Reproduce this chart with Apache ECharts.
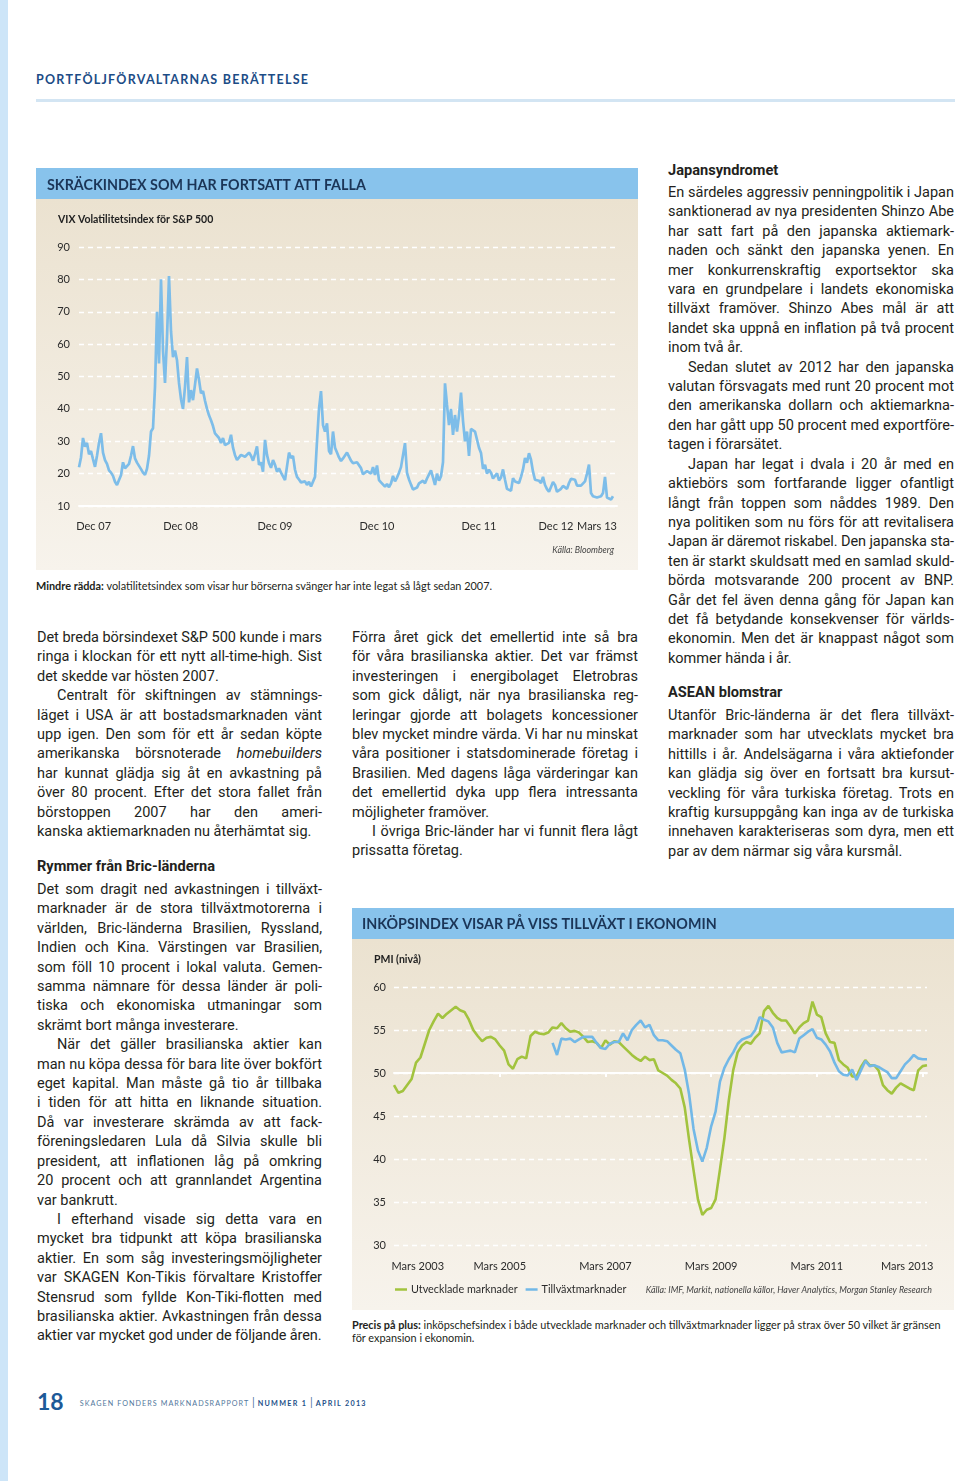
<!DOCTYPE html>
<html lang="sv"><head><meta charset="utf-8"><title>Portföljförvaltarnas berättelse</title>
<script src="https://cdn.jsdelivr.net/npm/echarts@6.0.0/dist/echarts.min.js"></script>
<style>
html,body{margin:0;padding:0;background:#fff;}
body{width:960px;height:1481px;position:relative;overflow:hidden;font-family:Roboto,Lato,sans-serif;color:#231f20;}
.stripe{position:absolute;left:0;top:0;width:8px;height:1481px;background:#cde5f8;}
.hdr{position:absolute;left:36px;top:72px;font-family:Lato,sans-serif;font-weight:bold;font-size:12.5px;letter-spacing:1.25px;color:#1c4c86;white-space:nowrap;}
.hline{position:absolute;left:36px;top:99px;width:919px;height:3px;background:#d3e5f3;}
.panel{position:absolute;width:602px;height:402px;background:linear-gradient(to bottom,#88c3ec 0,#88c3ec 31px,#ebe2d0 31px,#f7f3ec 402px);}
.cap{position:absolute;font-family:Lato,sans-serif;font-size:10.9px;line-height:13px;white-space:nowrap;color:#231f20;}
.col{position:absolute;font-size:14.5px;line-height:19.42px;}
.ln{white-space:nowrap;height:19.42px;}
.ln.in{padding-left:20px;}
.hd{position:absolute;font-weight:bold;font-size:14.6px;white-space:nowrap;}
.foot{position:absolute;left:37px;top:1387px;white-space:nowrap;color:#1d5a98;font-family:Lato,sans-serif;}
.foot .pg{font-weight:bold;font-size:23px;vertical-align:middle;}
.foot .t{font-size:7.2px;letter-spacing:1.05px;vertical-align:middle;margin-left:16px;color:#52779c;}
.foot .s{font-size:11px;color:#52779c;letter-spacing:0;}
.foot .b{font-weight:bold;color:#1d4f88;letter-spacing:1.3px;}
</style></head><body>
<div class="stripe"></div>
<div class="hdr">PORTFÖLJFÖRVALTARNAS BERÄTTELSE</div>
<div class="hline"></div>

<div id="vix" class="panel" style="left:36px;top:168px;"></div>
<div class="cap" style="left:36px;top:579px;"><b>Mindre rädda:</b> volatilitetsindex som visar hur börserna svänger har inte legat så lågt sedan 2007.</div>

<div id="pmi" class="panel" style="left:352px;top:908px;"></div>
<div class="cap" style="left:352px;top:1318px;font-size:10.9px;"><b>Precis på plus:</b> inköpschefsindex i både utvecklade marknader och tillväxtmarknader ligger på strax över 50 vilket är gränsen<br>för expansion i ekonomin.</div>

<div class="col" style="left:37px;top:628px;width:285px;">
<div class="ln j"><span>Det breda börsindexet S&amp;P 500 kunde i mars</span></div>
<div class="ln j"><span>ringa i klockan för ett nytt all-time-high. Sist</span></div>
<div class="ln"><span>det skedde var hösten 2007.</span></div>
<div class="ln j in"><span>Centralt för skiftningen av stämnings-</span></div>
<div class="ln j"><span>läget i USA är att bostadsmarknaden vänt</span></div>
<div class="ln j"><span>upp igen. Den som för ett år sedan köpte</span></div>
<div class="ln j"><span>amerikanska börsnoterade <i>homebuilders</i></span></div>
<div class="ln j"><span>har kunnat glädja sig åt en avkastning på</span></div>
<div class="ln j"><span>över 80 procent. Efter det stora fallet från</span></div>
<div class="ln j"><span>börstoppen 2007 har den ameri-</span></div>
<div class="ln"><span>kanska aktiemarknaden nu återhämtat sig.</span></div>
</div>
<div class="hd" style="left:37px;top:857px;">Rymmer från Bric-länderna</div>
<div class="col" style="left:37px;top:880px;width:285px;">
<div class="ln j"><span>Det som dragit ned avkastningen i tillväxt-</span></div>
<div class="ln j"><span>marknader är de stora tillväxtmotorerna i</span></div>
<div class="ln j"><span>världen, Bric-länderna Brasilien, Ryssland,</span></div>
<div class="ln j"><span>Indien och Kina. Värstingen var Brasilien,</span></div>
<div class="ln j"><span>som föll 10 procent i lokal valuta. Gemen-</span></div>
<div class="ln j"><span>samma nämnare för dessa länder är poli-</span></div>
<div class="ln j"><span>tiska och ekonomiska utmaningar som</span></div>
<div class="ln"><span>skrämt bort många investerare.</span></div>
<div class="ln j in"><span>När det gäller brasilianska aktier kan</span></div>
<div class="ln j"><span>man nu köpa dessa för bara lite över bokfört</span></div>
<div class="ln j"><span>eget kapital. Man måste gå tio år tillbaka</span></div>
<div class="ln j"><span>i tiden för att hitta en liknande situation.</span></div>
<div class="ln j"><span>Då var investerare skrämda av att fack-</span></div>
<div class="ln j"><span>föreningsledaren Lula då Silvia skulle bli</span></div>
<div class="ln j"><span>president, att inflationen låg på omkring</span></div>
<div class="ln j"><span>20 procent och att grannlandet Argentina</span></div>
<div class="ln"><span>var bankrutt.</span></div>
<div class="ln j in"><span>I efterhand visade sig detta vara en</span></div>
<div class="ln j"><span>mycket bra tidpunkt att köpa brasilianska</span></div>
<div class="ln j"><span>aktier. En som såg investeringsmöjligheter</span></div>
<div class="ln j"><span>var SKAGEN Kon-Tikis förvaltare Kristoffer</span></div>
<div class="ln j"><span>Stensrud som fyllde Kon-Tiki-flotten med</span></div>
<div class="ln j"><span>brasilianska aktier. Avkastningen från dessa</span></div>
<div class="ln"><span>aktier var mycket god under de följande åren.</span></div>
</div>

<div class="col" style="left:352px;top:628px;width:286px;">
<div class="ln j"><span>Förra året gick det emellertid inte så bra</span></div>
<div class="ln j"><span>för våra brasilianska aktier. Det var främst</span></div>
<div class="ln j"><span>investeringen i energibolaget Eletrobras</span></div>
<div class="ln j"><span>som gick dåligt, när nya brasilianska reg-</span></div>
<div class="ln j"><span>leringar gjorde att bolagets koncessioner</span></div>
<div class="ln j"><span>blev mycket mindre värda. Vi har nu minskat</span></div>
<div class="ln j"><span>våra positioner i statsdominerade företag i</span></div>
<div class="ln j"><span>Brasilien. Med dagens låga värderingar kan</span></div>
<div class="ln j"><span>det emellertid dyka upp flera intressanta</span></div>
<div class="ln"><span>möjligheter framöver.</span></div>
<div class="ln j in"><span>I övriga Bric-länder har vi funnit flera lågt</span></div>
<div class="ln"><span>prissatta företag.</span></div>
</div>

<div class="hd" style="left:668px;top:161px;">Japansyndromet</div>
<div class="col" style="left:668px;top:183px;width:286px;">
<div class="ln j"><span>En särdeles aggressiv penningpolitik i Japan</span></div>
<div class="ln j"><span>sanktionerad av nya presidenten Shinzo Abe</span></div>
<div class="ln j"><span>har satt fart på den japanska aktiemark-</span></div>
<div class="ln j"><span>naden och sänkt den japanska yenen. En</span></div>
<div class="ln j"><span>mer konkurrenskraftig exportsektor ska</span></div>
<div class="ln j"><span>vara en grundpelare i landets ekonomiska</span></div>
<div class="ln j"><span>tillväxt framöver. Shinzo Abes mål är att</span></div>
<div class="ln j"><span>landet ska uppnå en inflation på två procent</span></div>
<div class="ln"><span>inom två år.</span></div>
<div class="ln j in"><span>Sedan slutet av 2012 har den japanska</span></div>
<div class="ln j"><span>valutan försvagats med runt 20 procent mot</span></div>
<div class="ln j"><span>den amerikanska dollarn och aktiemarkna-</span></div>
<div class="ln j"><span>den har gått upp 50 procent med exportföre-</span></div>
<div class="ln"><span>tagen i förarsätet.</span></div>
<div class="ln j in"><span>Japan har legat i dvala i 20 år med en</span></div>
<div class="ln j"><span>aktiebörs som fortfarande ligger ofantligt</span></div>
<div class="ln j"><span>långt från toppen som nåddes 1989. Den</span></div>
<div class="ln j"><span>nya politiken som nu förs för att revitalisera</span></div>
<div class="ln j"><span>Japan är däremot riskabel. Den japanska sta-</span></div>
<div class="ln j"><span>ten är starkt skuldsatt med en samlad skuld-</span></div>
<div class="ln j"><span>börda motsvarande 200 procent av BNP.</span></div>
<div class="ln j"><span>Går det fel även denna gång för Japan kan</span></div>
<div class="ln j"><span>det få betydande konsekvenser för världs-</span></div>
<div class="ln j"><span>ekonomin. Men det är knappast något som</span></div>
<div class="ln"><span>kommer hända i år.</span></div>
</div>
<div class="hd" style="left:668px;top:683px;">ASEAN blomstrar</div>
<div class="col" style="left:668px;top:706px;width:286px;">
<div class="ln j"><span>Utanför Bric-länderna är det flera tillväxt-</span></div>
<div class="ln j"><span>marknader som har utvecklats mycket bra</span></div>
<div class="ln j"><span>hittills i år. Andelsägarna i våra aktiefonder</span></div>
<div class="ln j"><span>kan glädja sig över en fortsatt bra kursut-</span></div>
<div class="ln j"><span>veckling för våra turkiska företag. Trots en</span></div>
<div class="ln j"><span>kraftig kursuppgång kan inga av de turkiska</span></div>
<div class="ln j"><span>innehaven karakteriseras som dyra, men ett</span></div>
<div class="ln"><span>par av dem närmar sig våra kursmål.</span></div>
</div>

<div class="foot"><span class="pg">18</span><span class="t">SKAGEN FONDERS MARKNADSRAPPORT <span class="s">|</span> <span class="b">NUMMER 1</span> <span class="s">|</span> <span class="b">APRIL 2013</span></span></div>

<script>
// ---------- VIX data (weekly samples, Jan 2008 – Mar 2013) ----------
const vixValues = [
 22,25,31,28.3,29.5,26,27,24.5,22.1,25.5,
 29.5,32.5,26.5,24.2,23,21,20.3,19.3,17.5,16.5,
 18,19.5,23.5,21.6,21.1,23,25.5,28.5,24.7,23.4,
 23.5,21.4,20.3,19.6,21.5,25.5,33,34,46.8,70,
 54,80,58,48,62,81,64,56,58,55,
 48,43,40,46.8,56,42,45.8,42.7,47.5,52.5,
 49,44.8,45.5,42.5,40,38,36.5,34.7,32.4,33,
 31,29.5,31,28.8,28.5,29.5,32,28,25.7,24.2,
 24.5,25.8,25.6,25.2,24.8,26.5,25.5,24,26,28.4,
 22.7,23.5,20.6,30.4,25.8,23.2,21.8,24.2,22.7,20.6,
 21.6,20.3,20.6,18,18.1,26.5,24.8,25.5,21.2,19,
 18.2,17.3,17.4,17.6,16.5,17.5,16,16,19,30,
 40,45.5,35,33,35.5,27,26,33,28,26.5,
 25,23.9,24.7,24.2,26.5,26.5,24,23.2,23.5,23.5,
 23,21.7,19.8,20,20.8,20.5,20,22,19.6,22.5,
 18,17.3,17.7,16,16.8,15.8,17,19.3,17.6,18.8,
 20.3,22,21.9,29.4,20.2,18.2,16.6,15.1,14.5,15.7,
 17,17,17.8,17,18.5,18.8,21,21,16.5,20,
 17.8,19.2,23.5,47.9,41.2,35,40,32,38.1,33,
 38,45,36.3,30,33,25.5,33.8,34,33,32.5,
 28,26.4,21.5,22.7,20,21.2,20.3,18.5,19.1,20.1,
 17.9,18.8,21.3,18.1,15.3,14.7,14.7,18.6,17.6,18.2,
 17.1,19,21.3,24.8,23.4,26.3,24.3,20.6,18.1,18.4,
 17.8,17.1,19,16.5,15.2,14.4,15.9,17.4,16.5,14.4,
 14.9,15.3,16.2,16,15.3,17.1,18.4,17.8,18.1,16.3,
 15.7,16.3,16.1,17.6,20,22.8,14,13,13.5,12.6,
 13,13,14,19,12.6,13,12,13
];
const vixTickLabels = ['Dec 07','Dec 08','Dec 09','Dec 10','Dec 11','Dec 12','Mars 13'];
const vixTickWeeks  = [7.3, 50.8, 98, 149, 200, 238.5, 259];
const vixYTicks = {min:10, max:90, step:10};

// ---------- PMI data (monthly, Mar 2003 – Apr 2013) ----------
const pmiDeveloped = [
 48.6,47.7,47.9,48.6,49.3,51.2,51.8,53.4,55.0,56.0,
 56.9,56.4,56.9,57.3,57.7,57.3,57.1,56.2,55.0,54.3,
 53.7,54.1,54.2,53.9,53.2,52.6,51.0,50.5,51.6,51.9,
 51.7,54.3,54.8,54.6,54.5,54.7,55.3,55.2,55.8,55.2,
 54.8,54.9,54.7,54.2,53.6,53.7,53.5,52.9,53.8,53.3,
 53.7,53.6,53.1,52.6,52.1,51.7,51.4,51.9,51.5,51.6,
 50.3,50.0,49.7,49.2,48.8,48.2,46.0,42.2,38.7,35.3,
 33.5,34.1,34.3,35.3,38.8,42.4,46.8,50.3,52.4,53.2,
 53.6,53.4,54.1,54.6,57.2,57.8,57.0,56.4,56.1,56.1,
 55.4,54.6,55.3,55.8,56.1,58.3,56.8,56.5,54.6,53.6,
 53.5,51.5,51.0,50.6,49.6,49.6,50.7,51.5,50.9,50.9,
 50.3,48.6,48.0,47.6,48.3,48.8,48.5,48.2,48.0,50.3,
 50.8,50.9
];
const pmiEmergingStart = 36;
const pmiEmerging = [
 53.5,52.1,54.0,53.9,54.0,53.6,53.9,54.2,54.2,54.2,
 53.5,52.9,52.8,53.4,53.6,53.6,54.6,53.8,55.0,55.6,
 56.1,55.3,55.6,54.4,53.8,53.8,53.7,53.2,52.7,52.3,
 50.4,47.5,43.5,41.0,39.7,41.3,43.8,45.5,49.0,50.6,
 51.6,52.4,53.4,53.9,54.1,54.3,55.0,56.5,56.2,56.0,
 55.3,53.5,52.4,52.5,52.6,52.4,54.0,54.4,54.8,55.1,
 54.1,53.9,53.3,52.5,51.2,50.2,49.8,49.7,50.4,49.2,
 50.3,51.4,50.8,50.9,50.7,50.4,50.1,49.4,49.4,50.2,
 51.0,51.5,52.1,51.7,51.6,51.6
];
const pmiSeriesNames = ['Utvecklade marknader','Tillväxtmarknader'];
const pmiTickLabels = ['Mars 2003','Mars 2005','Mars 2007','Mars 2009','Mars 2011','Mars 2013'];
const pmiLabelMonths = [5.4, 24, 48, 72, 96, 116.5];
const pmiTickMonths = [24, 48, 72, 96, 120];
const pmiThreshold = 50;

const FONT = 'Lato, "Open Sans", sans-serif';
const TXT = '#2b2b2b';

function txt(x, y, text, o) {
  return {type:'text', x:x, y:y, z:10, silent:true,
    style:Object.assign({text:text, fill:TXT, fontFamily:FONT, fontSize:11,
      verticalAlign:'middle', textVerticalAlign:'middle', align:'left', textAlign:'left'}, o||{})};
}

// ---------- VIX chart ----------
const vix = echarts.init(document.getElementById('vix'));
vix.setOption({
  animation:false,
  textStyle:{fontFamily:FONT},
  grid:{left:43, right:21, top:79, bottom:64},
  graphic:[
    txt(11, 17, 'SKRÄCKINDEX SOM HAR FORTSATT ATT FALLA', {fill:'#1b3557', fontSize:14.3, fontWeight:'bold'}),
    txt(22, 52, 'VIX Volatilitetsindex för S&P 500', {fontSize:10.5, fontWeight:'bold', fill:'#222'}),
    txt(578, 382, 'Källa: Bloomberg', {fontSize:8.8, fontStyle:'italic', align:'right', textAlign:'right', fill:'#444'})
  ],
  xAxis:{type:'value', min:0, max:269,
    axisLine:{show:true, lineStyle:{color:'#ffffff', width:2}},
    axisTick:{show:false}, splitLine:{show:false},
    axisLabel:{customValues:vixTickWeeks, formatter:function(v){const i=vixTickWeeks.indexOf(v);return i>=0?vixTickLabels[i]:'';}, color:TXT, fontSize:11, margin:15}
  },
  yAxis:{type:'value', min:vixYTicks.min, max:vixYTicks.max, interval:vixYTicks.step,
    axisLine:{show:false}, axisTick:{show:false},
    axisLabel:{color:TXT, fontSize:11, margin:9},
    splitLine:{lineStyle:{color:'#ffffff', type:[5,4], width:1.4}}
  },
  series:[{type:'line', name:'VIX', data:vixValues.map((v,i)=>[i,v]), showSymbol:false, silent:true,
    lineStyle:{color:'#7dbde9', width:2.7}, z:3}]
});

// ---------- PMI chart ----------
const pmi = echarts.init(document.getElementById('pmi'));
const emData = pmiDeveloped.map((_,i)=> i<pmiEmergingStart ? [i,null] : [i, pmiEmerging[i-pmiEmergingStart]]);
pmi.setOption({
  animation:false,
  textStyle:{fontFamily:FONT},
  grid:[{left:42, right:27, top:79, bottom:65},{left:42, right:27, top:79, bottom:237}],
  graphic:[
    txt(10, 16, 'INKÖPSINDEX VISAR PÅ VISS TILLVÄXT I EKONOMIN', {fill:'#1b3557', fontSize:14.3, fontWeight:'bold'}),
    txt(22, 52, 'PMI (nivå)', {fontSize:10.5, fontWeight:'bold', fill:'#222'}),
    txt(580, 382, 'Källa: IMF, Markit, nationella källor, Haver Analytics, Morgan Stanley Research', {fontSize:8.9, fontStyle:'italic', align:'right', textAlign:'right', fill:'#444'})
  ],
  legend:{left:43, top:376, padding:0, icon:'rect', itemWidth:12, itemHeight:2.5, itemGap:8,
    textStyle:{color:TXT, fontSize:10.8, fontFamily:FONT, padding:[0,0,0,-1]}, data:pmiSeriesNames},
  xAxis:[
    {gridIndex:0, type:'value', min:0, max:pmiDeveloped.length-1,
      axisLine:{show:false}, axisTick:{show:false}, splitLine:{show:false},
      axisLabel:{customValues:pmiLabelMonths, formatter:function(v){const i=pmiLabelMonths.indexOf(v);return i>=0?pmiTickLabels[i]:'';}, color:TXT, fontSize:11, margin:16}},
    {gridIndex:1, type:'value', min:0, max:pmiDeveloped.length-1, z:1,
      axisLine:{show:true, lineStyle:{color:'#ffffff', width:2}},
      axisTick:{show:true, customValues:pmiTickMonths, length:4, lineStyle:{color:'#ffffff', width:2}},
      axisLabel:{show:false}, splitLine:{show:false}}
  ],
  yAxis:[
    {gridIndex:0, type:'value', min:30, max:60, interval:5,
      axisLine:{show:false}, axisTick:{show:false},
      axisLabel:{color:TXT, fontSize:11, margin:8},
      splitLine:{lineStyle:{color:'#ffffff', type:[5,4], width:1.4}}},
    {gridIndex:1, type:'value', min:pmiThreshold, max:60, show:false}
  ],
  series:[
    {type:'line', name:pmiSeriesNames[0], xAxisIndex:0, yAxisIndex:0, data:pmiDeveloped.map((v,i)=>[i,v]),
      showSymbol:false, silent:true, lineStyle:{color:'#a2c33e', width:2.6}, itemStyle:{color:'#a2c33e'}, z:3},
    {type:'line', name:pmiSeriesNames[1], xAxisIndex:0, yAxisIndex:0, data:emData, connectNulls:false,
      showSymbol:false, silent:true, lineStyle:{color:'#72b8e7', width:2.6}, itemStyle:{color:'#72b8e7'}, z:4}
  ]
});

// ---------- justify text lines ----------
function justify(){
  document.querySelectorAll('.col').forEach(col=>{
    const W = col.clientWidth;
    col.querySelectorAll('.ln').forEach(ln=>{
      const sp = ln.firstElementChild;
      const target = W - (ln.classList.contains('in') ? 20 : 0);
      let w = sp.getBoundingClientRect().width;
      if (w > target) {
        const n = sp.textContent.length;
        sp.style.letterSpacing = (-(w - target + 0.5) / n) + 'px';
        w = sp.getBoundingClientRect().width;
      }
      if (ln.classList.contains('j')) {
        const spaces = (sp.textContent.match(/ /g) || []).length;
        if (spaces && w < target) sp.style.wordSpacing = ((target - w) / spaces) + 'px';
      }
    });
  });
}
justify();
if (document.fonts && document.fonts.ready) document.fonts.ready.then(()=>{
  document.querySelectorAll('.col span').forEach(s=>{s.style.letterSpacing='';s.style.wordSpacing='';});
  justify();
});
</script>
</body></html>
